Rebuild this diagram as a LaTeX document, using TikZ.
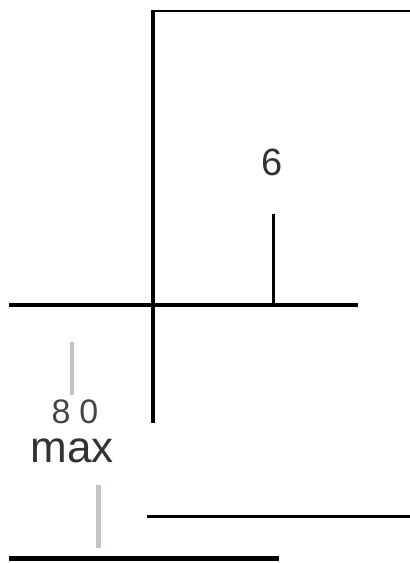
\documentclass[tikz,border=0pt]{standalone}
\usepackage{fontspec}
\setmainfont{Liberation Sans}
\definecolor{TxtClr}{HTML}{333333}
\definecolor{NumClr}{HTML}{454545}
\definecolor{BarClr}{HTML}{BFC4C4}
\tikzset{
  axis/.style={line width=3.5pt,black},
  thinline/.style={line width=1.5pt,black},
  graybar/.style={line width=4.5pt,BarClr},
  lbl/.style={inner sep=0pt,text=TxtClr}
}
\begin{document}
\begin{tikzpicture}[x=1pt,y=-1pt]
\useasboundingbox (0,0) rectangle (410,563);

% top rule and main cross
\coordinate (T1) at (152,11);
\coordinate (T2) at (410,11);
\draw[thinline] (T1) -- (T2);

\coordinate (V1) at (153,10);
\coordinate (V2) at (153,423);
\draw[axis,line width=4pt] (V1) -- (V2);

\coordinate (H1) at (9,305);
\coordinate (H2) at (358,305);
\draw[axis] (H1) -- (H2);

% tick with label
\coordinate (K1) at (273,214);
\coordinate (K2) at (273,305);
\draw[axis,line width=3pt] (K1) -- (K2);
\node[lbl,font=\fontsize{38}{38}\selectfont] (six) at (272,162) {6};

% left gauge
\coordinate (G1) at (72,342);
\coordinate (G2) at (72,395);
\draw[graybar] (G1) -- (G2);
\node[lbl,text=NumClr,anchor=base,text height=25pt,text depth=0pt,
  font=\fontsize{34}{34}\selectfont] (eighty) at (75,423) {8\hspace{9pt}0};
\node[lbl,anchor=base,text height=23pt,text depth=0pt,
  font=\fontsize{44}{44}\selectfont] (max) at (72,462) {max};

% bottom part
\coordinate (B1) at (98,485);
\coordinate (B2) at (98,548);
\draw[graybar,line width=5pt] (B1) -- (B2);

\coordinate (L1) at (147,516);
\coordinate (L2) at (410,516);
\draw[axis,line width=3pt] (L1) -- (L2);

\coordinate (M1) at (9,558);
\coordinate (M2) at (279,558);
\draw[axis,line width=5pt] (M1) -- (M2);
\end{tikzpicture}
\end{document}
